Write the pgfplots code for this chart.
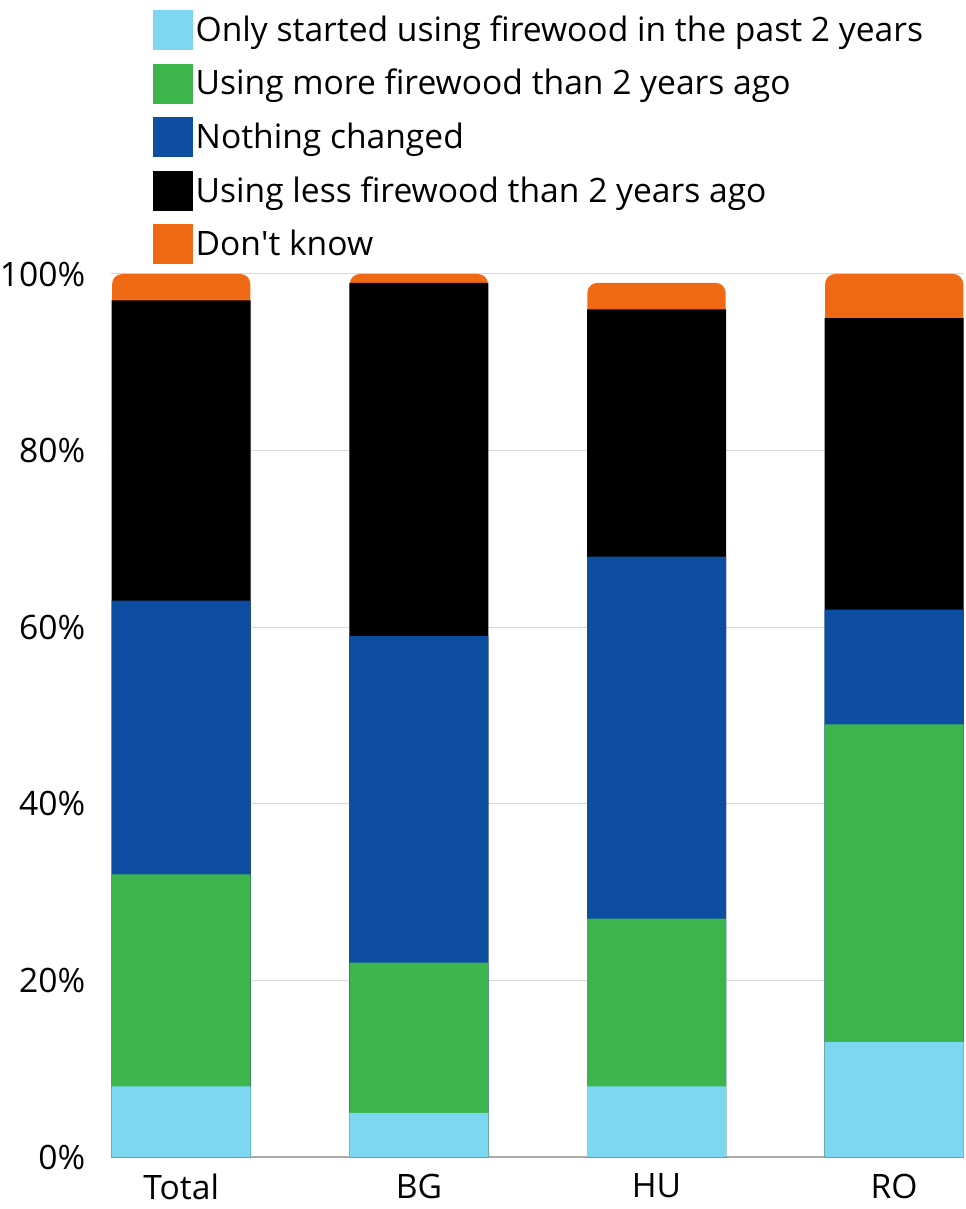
\documentclass[border=0pt]{standalone}
\usepackage{pgfplots}
\usepackage{pgfplotstable}
\pgfplotsset{compat=1.18}
\usepackage{fontspec}
\setmainfont{Open Sans}

\definecolor{startcol}{RGB}{125,215,240}
\definecolor{morecol}{RGB}{60,181,77}
\definecolor{samecol}{RGB}{13,77,162}
\definecolor{lesscol}{RGB}{0,0,0}
\definecolor{dkcol}{RGB}{240,106,22}
\definecolor{gridgray}{RGB}{217,217,217}
\definecolor{basegray}{RGB}{170,170,170}

% share of households (%) per answer
\pgfplotstableread{
x started more same less dk
0 8  24 31 34 3
1 5  17 37 40 1
2 8  19 41 28 3
3 13 36 13 33 5
}\firewood

% running totals: every segment is drawn as a bar from 0 to its cumulative
% height, tallest first, so that only the top segment keeps rounded corners
\pgfplotstablecreatecol[expr={\thisrow{started}+\thisrow{more}}]{c2}{\firewood}
\pgfplotstablecreatecol[expr={\thisrow{c2}+\thisrow{same}}]{c3}{\firewood}
\pgfplotstablecreatecol[expr={\thisrow{c3}+\thisrow{less}}]{c4}{\firewood}
\pgfplotstablecreatecol[expr={\thisrow{c4}+\thisrow{dk}}]{c5}{\firewood}

\newcommand{\chartfont}{\fontsize{16.8bp}{20bp}\selectfont}

\begin{document}
\begin{tikzpicture}
\begin{axis}[
  scale only axis,
  width=426.5bp, height=441.5bp,
  xmin=-0.2968, xmax=3.2926,
  ymin=0, ymax=100,
  axis x line*=bottom,
  axis y line*=left,
  x axis line style={draw=basegray, line width=0.8bp},
  y axis line style={draw=none},
  major tick length=0pt,
  ymajorgrids,
  grid style={draw=gridgray, line width=0.5bp},
  ytick={0,20,40,60,80,100},
  yticklabels={0\%,20\%,40\%,60\%,80\%,100\%},
  xtick={0,1,2,3},
  xticklabels={Total,BG,HU,RO},
  tick label style={font=\chartfont, text=black},
  yticklabel style={anchor=east, inner sep=0pt, xshift=-12.5bp},
  xticklabel style={anchor=north, inner sep=0pt, yshift=-8.2bp},
  seg/.style={ybar, bar width=69.5bp, bar shift=0pt, draw=none, fill=#1, forget plot},
  legend image code/.code={\fill[#1, draw=none] (0bp,-10bp) rectangle (20bp,10bp);},
  legend cell align=left,
  legend style={
    at={(0,1)}, anchor=north west, xshift=21bp, yshift=132bp,
    draw=none, fill=none, inner sep=0pt, outer sep=0pt,
    font=\chartfont, row sep=6.8bp,
    nodes={inner sep=0pt},
    /tikz/every odd column/.append style={column sep=1.5bp},
  },
]
% the top segment sits a hair inside the others so its edge does not show
\addplot[seg=dkcol, bar width=69.1bp, rounded corners=5bp] table[x=x, y=c5] {\firewood};
\addplot[seg=lesscol]  table[x=x, y=c4] {\firewood};
\addplot[seg=samecol]  table[x=x, y=c3] {\firewood};
\addplot[seg=morecol]  table[x=x, y=c2] {\firewood};
\addplot[seg=startcol] table[x=x, y=started] {\firewood};

\addlegendimage{fill=startcol}
\addlegendentry{Only started using firewood in the past 2 years}
\addlegendimage{fill=morecol}
\addlegendentry{Using more firewood than 2 years ago}
\addlegendimage{fill=samecol}
\addlegendentry{Nothing changed}
\addlegendimage{fill=lesscol}
\addlegendentry{Using less firewood than 2 years ago}
\addlegendimage{fill=dkcol}
\addlegendentry{Don\textquotesingle t know}
\end{axis}
\path (current axis.south west) ++(-55bp,-26bp) rectangle ++(482.5bp,604.5bp);
\end{tikzpicture}
\end{document}
